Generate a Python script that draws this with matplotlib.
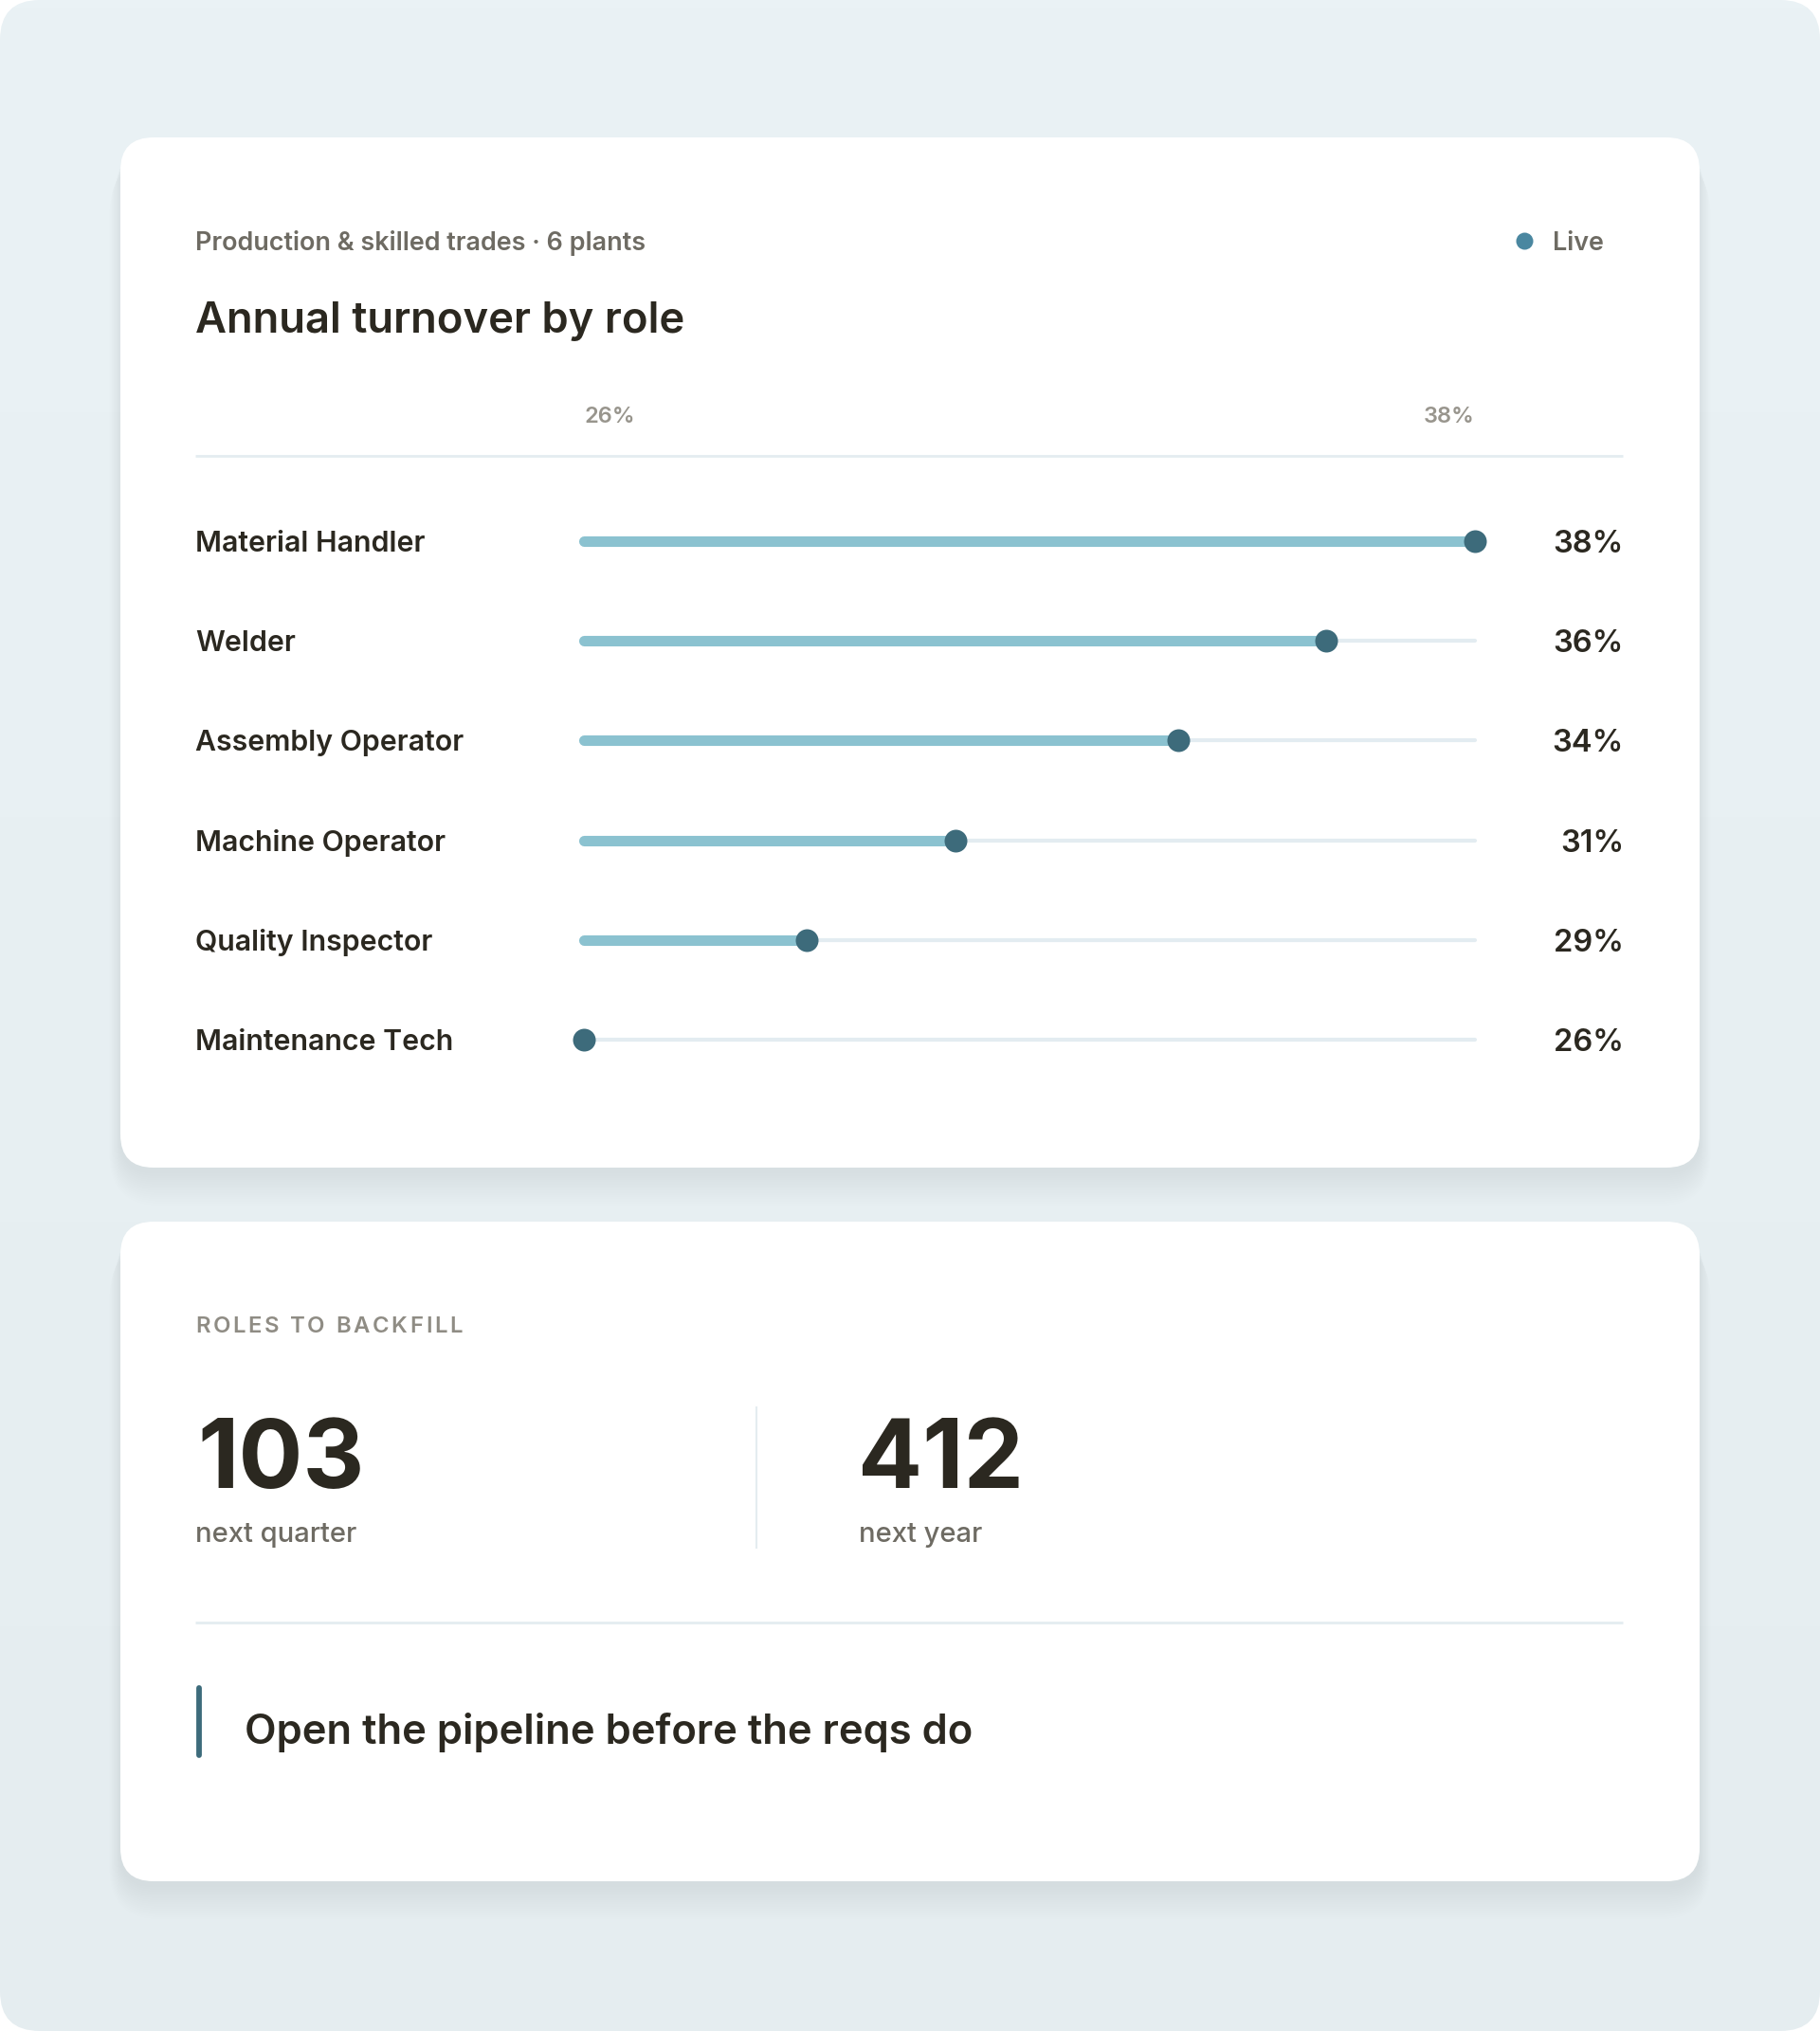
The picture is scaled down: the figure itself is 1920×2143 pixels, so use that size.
import matplotlib
matplotlib.use("Agg")
import matplotlib.pyplot as plt
import matplotlib.transforms as mtransforms
from matplotlib.patches import FancyBboxPatch
from matplotlib.font_manager import FontProperties, findfont, get_font
import numpy as np

# data
roles = ["Material Handler", "Welder", "Assembly Operator",
         "Machine Operator", "Quality Inspector", "Maintenance Tech"]
turnover = [38, 36, 34, 31, 29, 26]
axis_min, axis_max = 26, 38
backfill_values = ["103", "412"]
backfill_labels = ["next quarter", "next year"]

subtitle = "Production & skilled trades \u00b7 6 plants"
title = "Annual turnover by role"
quote = "Open the pipeline before the reqs do"

W, H = 1920, 2143
DARK = "#2b2820"
GREY = "#6e6b63"
LIGHT_GREY = "#98958d"
TRACK = "#e3ecf1"
FILL = "#8bc2d0"
DOT = "#3d6b7b"
LINE = "#e4ecf0"
FONT = "Inter"

plt.rcParams["font.family"] = [FONT, "DejaVu Sans"]

fig = plt.figure(figsize=(W / 100, H / 100), dpi=100)
fig.patch.set_facecolor("white")

bg = fig.add_axes([0, 0, 1, 1])
bg.set_xlim(0, W)
bg.set_ylim(H, 0)
bg.axis("off")

# page background with soft vertical gradient
page = FancyBboxPatch((0, 0), W, H, boxstyle="round,pad=0,rounding_size=42",
                      facecolor="none", edgecolor="none")
bg.add_patch(page)
grad = np.linspace(0, 1, 256).reshape(-1, 1)
top_c = np.array([0xea, 0xf2, 0xf5]) / 255
bot_c = np.array([0xe5, 0xed, 0xf0]) / 255
img = top_c[None, None, :] * (1 - grad[..., None]) + bot_c[None, None, :] * grad[..., None]
im = bg.imshow(img, extent=(0, W, H, 0), aspect="auto", zorder=0)
im.set_clip_path(page)


def card(x0, y0, x1, y1):
    # soft drop shadow built from stacked translucent boxes
    for k in range(16):
        g = k * 2.5
        sh = FancyBboxPatch((x0 - g * 0.3, y0 + 6 + g * 0.55),
                            (x1 - x0) + g * 0.6, (y1 - y0) + g * 0.35,
                            boxstyle="round,pad=0,rounding_size=%d" % (35 + g * 0.5),
                            facecolor="#a9bcc4", edgecolor="none",
                            alpha=0.015, zorder=1)
        bg.add_patch(sh)
    c = FancyBboxPatch((x0, y0), x1 - x0, y1 - y0,
                       boxstyle="round,pad=0,rounding_size=35",
                       facecolor="white", edgecolor="none", zorder=2)
    bg.add_patch(c)


card(127, 145, 1793, 1232)
card(127, 1289, 1793, 1985)


def tracked_text(target, x, y, s, size, tracking, **kw):
    # place characters one by one to mimic letter spacing
    fp = FontProperties(family=FONT, size=size, weight=kw.get("weight", "normal"))
    font = get_font(findfont(fp))
    font.set_size(size * 100 / 72, 72)
    cx = x
    for ch in s:
        target.text(cx, y, ch, fontsize=size, **kw)
        adv = font.load_char(ord(ch)).linearHoriAdvance / 65536
        cx += adv + tracking
    return cx - tracking


# header
bg.text(206, 264, subtitle, fontsize=19.4, color=GREY, weight="semibold",
        va="baseline", ha="left", zorder=5)
bg.text(206, 351, title, fontsize=32.7, color=DARK, weight="semibold",
        va="baseline", ha="left", zorder=5)
bg.scatter([1608], [254], s=(18 * 0.72) ** 2, color="#4a87a0", zorder=5, lw=0)
bg.text(1638, 264, "Live", fontsize=19.4, color=GREY, weight="semibold",
        va="baseline", ha="left", zorder=5)

# separator under axis labels
bg.plot([206, 1712], [481, 481], color=LINE, lw=2, zorder=5, solid_capstyle="butt")

# chart axes: x in percent
x0_px, x1_px = 616, 1556
row_h = 105.2
top_px = 571 - row_h / 2
bot_px = top_px + row_h * len(roles)
ax = fig.add_axes([x0_px / W, 1 - bot_px / H, (x1_px - x0_px) / W, (bot_px - top_px) / H])
ax.set_xlim(axis_min, axis_max)
ax.set_ylim(len(roles) - 0.5, -0.5)
ax.axis("off")
ax.patch.set_alpha(0)

ypos = np.arange(len(roles))
for i, v in enumerate(turnover):
    ax.plot([axis_min, axis_max], [i, i], color=TRACK, lw=3.0,
            solid_capstyle="round", zorder=2, clip_on=False)
    ax.plot([axis_min, v], [i, i], color=FILL, lw=8.0,
            solid_capstyle="round", zorder=3, clip_on=False)
ax.scatter(turnover, ypos, s=(24 * 0.72) ** 2, color=DOT, zorder=4, lw=0,
           clip_on=False)

# row labels and values
lab_tr = mtransforms.blended_transform_factory(bg.transData, ax.transData)
for i, (r, v) in enumerate(zip(roles, turnover)):
    ax.text(206, i, r, transform=lab_tr, fontsize=21.8, color=DARK,
            weight="semibold", ha="left", va="center_baseline")
    ax.text(1713, i, "%d%%" % v, transform=lab_tr, fontsize=23.5, color=DARK,
            weight="semibold", ha="right", va="center_baseline")

# axis end labels
tick_tr = mtransforms.blended_transform_factory(ax.transData, bg.transData)
ax.text(axis_min, 446, "%d%%" % axis_min, transform=tick_tr, fontsize=17,
        color=LIGHT_GREY, weight="semibold", ha="left", va="baseline")
ax.text(axis_max, 446, "%d%%" % axis_max, transform=tick_tr, fontsize=17,
        color=LIGHT_GREY, weight="semibold", ha="right", va="baseline")

# second card
tracked_text(bg, 206, 1406, "ROLES TO BACKFILL", 17.2, 2.7, color="#8f8c84",
             weight="semibold", va="baseline", ha="left", zorder=5)

for xv, xl, val, lab in zip([208, 905], [206, 906], backfill_values, backfill_labels):
    bg.text(xv, 1570, val, fontsize=72.5, color=DARK, weight="bold",
            va="baseline", ha="left", zorder=5)
    bg.text(xl, 1627, lab, fontsize=21, color=GREY, weight="medium",
            va="baseline", ha="left", zorder=5)

bg.plot([798, 798], [1485, 1633], color=LINE, lw=1.5, zorder=5)
bg.plot([206, 1712], [1712, 1712], color=LINE, lw=2, zorder=5, solid_capstyle="butt")

bg.plot([210, 210], [1781, 1852], color=DOT, lw=4.2, zorder=5, solid_capstyle="round")
bg.text(258, 1840, quote, fontsize=31.4, color=DARK, weight="semibold",
        va="baseline", ha="left", zorder=5)

fig.savefig("out.png", dpi=100, facecolor=fig.get_facecolor())
